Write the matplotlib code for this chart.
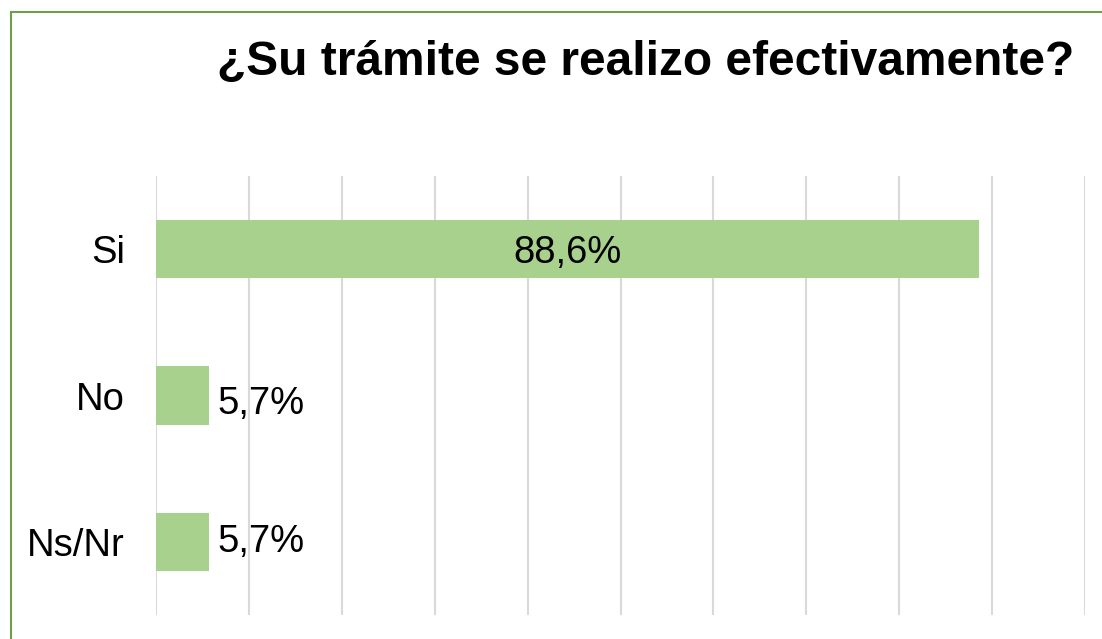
import matplotlib
matplotlib.use("Agg")
from matplotlib import pyplot as plt
from matplotlib import patches

categories = ["Si", "No", "Ns/Nr"]
values = [88.6, 5.7, 5.7]
labels = ["88,6%", "5,7%", "5,7%"]
title = "¿Su trámite se realizo efectivamente?"

plt.rcParams['font.family'] = ['Liberation Sans', 'DejaVu Sans']

W, H = 1102, 639
fig = plt.figure(figsize=(W / 100, H / 100), dpi=100)
ax = fig.add_axes([156 / W, 1 - 615 / H, (1085 - 156) / W, (615 - 176) / H])

ypos = list(range(len(categories)))
ax.barh(ypos, values, height=0.40, color="#A9D18E", zorder=3)

ax.set_xlim(0, 100)
ax.set_ylim(len(categories) - 0.5, -0.5)
ax.set_xticks(range(0, 101, 10))
ax.xaxis.grid(True, color="#D9D9D9", linewidth=1.5, zorder=0)
ax.tick_params(axis="x", length=0, labelbottom=False)
ax.tick_params(axis="y", length=0, pad=22.5, labelsize=27.5)
ax.set_yticks(ypos)
ax.set_yticklabels(categories)
for s in ax.spines.values():
    s.set_visible(False)

# small vertical nudges (points) as in the original layout
nudge = [-3, -6, 0]
for y, v, lab, dy in zip(ypos, values, labels, nudge):
    if v > 20:
        ax.annotate(lab, (v / 2, y), xytext=(0, dy), textcoords="offset points",
                    ha="center", va="center", fontsize=27.5, zorder=4)
    else:
        ax.annotate(lab, (v, y), xytext=(6, dy), textcoords="offset points",
                    ha="left", va="center", fontsize=27.5, zorder=4)

fig.text(646 / W, 1 - 63 / H, title, ha="center", va="center",
         fontsize=34.5, fontweight="bold")

# chart border (only left and top edges visible in the crop)
fig.patches.append(patches.Rectangle((11 / W, -0.5), 2, 1.5 - 12 / H,
                                     transform=fig.transFigure, fill=False,
                                     edgecolor="#6F9E4F", linewidth=1.5))

fig.savefig("out.png", dpi=100)
